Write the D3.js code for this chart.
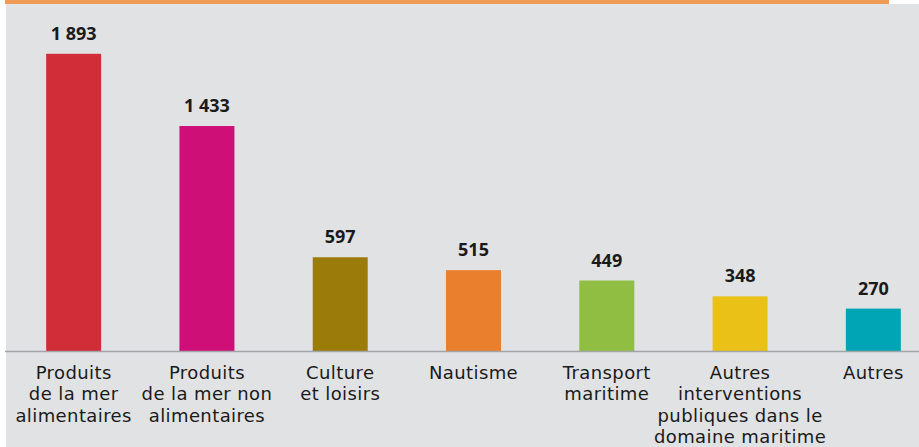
<!DOCTYPE html>
<html>
<head>
<meta charset="utf-8">
<script src="https://cdn.jsdelivr.net/npm/d3@7"></script>
<style>
  html, body { margin: 0; padding: 0; background: #ffffff; }
  svg { display: block; }
  text { fill: #1a1a1a; }
  .value { font-family: "Open Sans", "Noto Sans", sans-serif; }
  .cat { font-family: "DejaVu Sans", sans-serif; }
</style>
</head>
<body>
<svg id="chart" width="919" height="447"></svg>
<script>
// Nombre d'entreprises par secteur de l'économie maritime
const categories = [
  "Produits de la mer alimentaires",
  "Produits de la mer non alimentaires",
  "Culture et loisirs",
  "Nautisme",
  "Transport maritime",
  "Autres interventions publiques dans le domaine maritime",
  "Autres"
];
const categoryLines = [
  ["Produits", "de la mer", "alimentaires"],
  ["Produits", "de la mer non", "alimentaires"],
  ["Culture", "et loisirs"],
  ["Nautisme"],
  ["Transport", "maritime"],
  ["Autres", "interventions", "publiques dans le", "domaine maritime"],
  ["Autres"]
];
const values = [1893, 1433, 597, 515, 449, 348, 270];
const colors = ["#d12d38", "#cf0f78", "#9b7b0a", "#ea7f2e", "#8fbe43", "#eac117", "#00a5b5"];

const W = 919, H = 447;
const baseY = 351;

const svg = d3.select("#chart");

// fond gris et bandeau orange
svg.append("rect").attr("x", 6).attr("y", 4).attr("width", W - 6).attr("height", H - 4).attr("fill", "#e1e2e4");
svg.append("rect").attr("x", 5).attr("y", 0).attr("width", 884).attr("height", 4).attr("fill", "#ef9a55");

const x = d3.scaleBand()
  .domain(categories)
  .range([7, 940])
  .paddingInner(0.5875)
  .paddingOuter(0.29375);

const y = d3.scaleLinear().domain([0, 2000]).range([baseY, 37]);

const fr = d3.formatLocale({ decimal: ",", thousands: " ", grouping: [3], currency: ["", " €"] });
const fmt = fr.format(",d");

const rows = categories.map((c, i) => ({ c, v: values[i], color: colors[i], lines: categoryLines[i] }));

svg.append("g").selectAll("rect")
  .data(rows)
  .join("rect")
  .attr("x", d => x(d.c))
  .attr("y", d => y(d.v))
  .attr("width", x.bandwidth())
  .attr("height", d => baseY - y(d.v))
  .attr("fill", d => d.color);

svg.append("g").selectAll("text")
  .data(rows)
  .join("text")
  .attr("class", "value")
  .attr("x", d => x(d.c) + x.bandwidth() / 2)
  .attr("y", d => y(d.v) - 14)
  .attr("text-anchor", "middle")
  .style("font-size", "18px")
  .style("font-weight", 700)
  .text(d => fmt(d.v));

// axe des catégories
const axis = d3.axisBottom(x).tickSize(0).tickFormat(() => "");
const gAxis = svg.append("g").attr("transform", `translate(0,${baseY})`).call(axis);
gAxis.select(".domain").remove();
svg.append("line")
  .attr("x1", 5).attr("x2", W)
  .attr("y1", baseY + 0.5).attr("y2", baseY + 0.5)
  .attr("stroke", "#a3a4a6").attr("stroke-width", 1.5);

gAxis.selectAll(".tick text")
  .attr("class", "cat")
  .attr("y", 0)
  .attr("dy", 0)
  .style("font-size", "18px")
  .style("letter-spacing", "0.4px")
  .style("fill", "#1a1a1a")
  .each(function(d, i) {
    const t = d3.select(this);
    categoryLines[i].forEach((line, j) => {
      t.append("tspan").attr("x", 0).attr("y", 28 + j * 21.3).text(line);
    });
  });
</script>
</body>
</html>
